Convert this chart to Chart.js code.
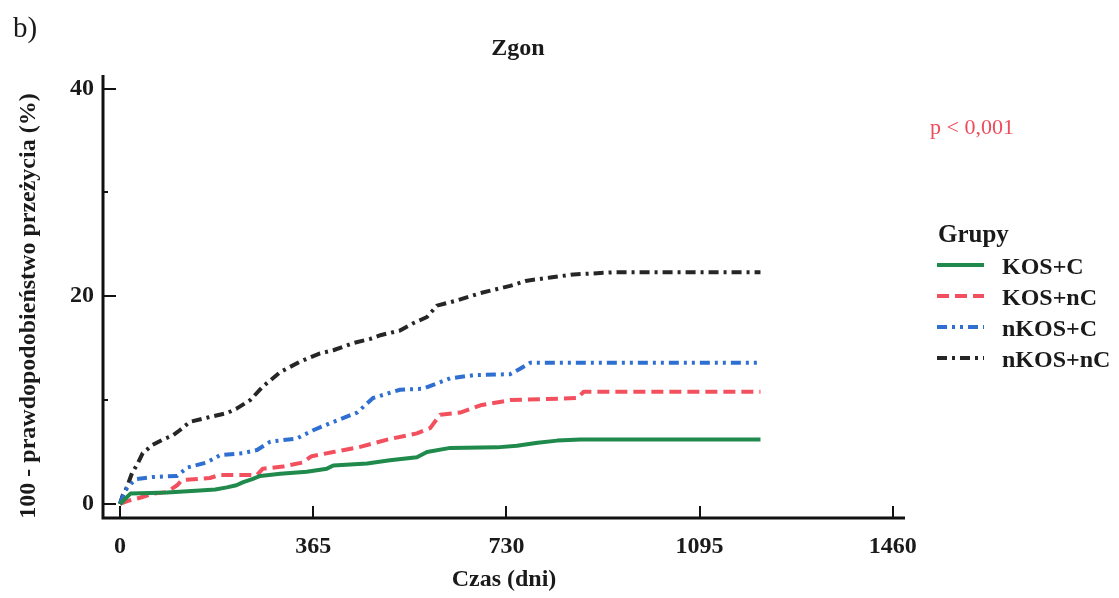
<!DOCTYPE html>
<html>
<head>
<meta charset="utf-8">
<title>Zgon</title>
<script src="https://cdn.jsdelivr.net/npm/chart.js@4"></script>
<style>
  html, body { margin: 0; padding: 0; background: #fff; }
  #wrap { width: 1119px; height: 598px; position: relative; }
</style>
</head>
<body>
<div id="wrap"><canvas id="chart"></canvas></div>
<script>
// cumulative mortality (100 - survival, %) by day, per group
const groupNames = ['KOS+C', 'KOS+nC', 'nKOS+C', 'nKOS+nC'];

const kosCDays = [0, 10, 20, 57, 89, 120, 151, 180, 202, 220, 233, 250, 265, 303, 353, 391, 403, 467, 510, 561, 580, 624, 712, 750, 789, 826, 870, 1210];
const kosCVals = [0, 0.5, 1.0, 1.05, 1.1, 1.2, 1.3, 1.4, 1.6, 1.8, 2.1, 2.4, 2.7, 2.9, 3.1, 3.4, 3.7, 3.9, 4.2, 4.5, 5.0, 5.4, 5.45, 5.6, 5.9, 6.1, 6.2, 6.2];

const kosNcDays = [0, 15, 38, 62, 89, 108, 117, 170, 189, 259, 270, 308, 346, 362, 403, 454, 505, 561, 586, 605, 643, 681, 737, 864, 876, 1210];
const kosNcVals = [0, 0.3, 0.6, 1.0, 1.15, 1.8, 2.3, 2.5, 2.8, 2.8, 3.4, 3.6, 4.0, 4.6, 5.0, 5.5, 6.2, 6.8, 7.3, 8.6, 8.8, 9.5, 10.0, 10.2, 10.8, 10.8];

const nkosCDays = [0, 6, 13, 22, 32, 62, 108, 127, 164, 189, 233, 259, 284, 334, 365, 403, 448, 478, 529, 573, 624, 668, 737, 755, 775, 1210];
const nkosCVals = [0, 0.8, 1.5, 2.0, 2.4, 2.6, 2.7, 3.5, 4.0, 4.7, 4.9, 5.2, 6.0, 6.3, 7.1, 7.9, 8.8, 10.2, 11.0, 11.1, 12.1, 12.4, 12.5, 13.0, 13.6, 13.6];

const nkosNcDays = [0, 5, 13, 23, 32, 43, 62, 81, 100, 113, 132, 164, 202, 221, 246, 270, 284, 303, 340, 378, 403, 441, 473, 492, 529, 554, 580, 599, 637, 681, 705, 737, 769, 813, 857, 932, 1210];
const nkosNcVals = [0, 0.8, 1.6, 3.0, 3.75, 4.9, 5.7, 6.2, 6.6, 7.1, 7.9, 8.3, 8.75, 9.2, 10.0, 11.3, 11.9, 12.7, 13.7, 14.5, 14.8, 15.5, 15.9, 16.25, 16.7, 17.4, 18.0, 19.1, 19.6, 20.3, 20.6, 21.0, 21.5, 21.8, 22.1, 22.3, 22.3];

const xTicks = [0, 365, 730, 1095, 1460];
const yTicks = [0, 10, 20, 30, 40];
const yLabels = [0, 20, 40];

const colors = ['#1f8a4c', '#f2505e', '#2e6fd1', '#262626'];
const dashes = [[], [12, 6], [10, 5, 3, 5, 3, 5], [10, 5, 3, 5]];

const serif = '"Liberation Serif", "Times New Roman", serif';

function toPoints(days, vals) {
  return days.map((d, i) => ({ x: d, y: vals[i] }));
}

const series = [
  toPoints(kosCDays, kosCVals),
  toPoints(kosNcDays, kosNcVals),
  toPoints(nkosCDays, nkosCVals),
  toPoints(nkosNcDays, nkosNcVals)
];

// axes with inward ticks, y title, panel label, title, p-value and legend
const decor = {
  id: 'decor',
  afterDraw(chart) {
    const { ctx, chartArea: a, scales: { x, y } } = chart;
    ctx.save();
    ctx.strokeStyle = '#111';
    ctx.lineCap = 'butt';

    ctx.lineWidth = 3;
    ctx.beginPath();
    ctx.moveTo(a.left, a.top);
    ctx.lineTo(a.left, a.bottom);
    ctx.lineTo(a.right, a.bottom);
    ctx.stroke();

    ctx.lineWidth = 2;
    yTicks.forEach(v => {
      const py = Math.round(y.getPixelForValue(v));
      const len = yLabels.includes(v) ? 13 : 5;
      ctx.beginPath();
      ctx.moveTo(a.left, py);
      ctx.lineTo(a.left + len, py);
      ctx.stroke();
    });
    xTicks.forEach(v => {
      const px = Math.round(x.getPixelForValue(v));
      ctx.beginPath();
      ctx.moveTo(px, a.bottom);
      ctx.lineTo(px, a.bottom - 12);
      ctx.stroke();
    });

    ctx.fillStyle = '#1a1a1a';
    ctx.font = 'bold 24px ' + serif;
    ctx.textAlign = 'center';
    ctx.textBaseline = 'middle';
    ctx.save();
    ctx.translate(29, 306);
    ctx.rotate(-Math.PI / 2);
    ctx.fillText('100 - prawdopodobieństwo przeżycia (%)', 0, 0);
    ctx.restore();

    ctx.textBaseline = 'alphabetic';
    ctx.font = '29px ' + serif;
    ctx.textAlign = 'left';
    ctx.fillText('b)', 13, 37);

    ctx.font = 'bold 24px ' + serif;
    ctx.textAlign = 'center';
    ctx.fillText('Zgon', 518, 55);

    ctx.textAlign = 'left';
    ctx.fillStyle = '#ee4b5b';
    ctx.font = '22px ' + serif;
    ctx.fillText('p < 0,001', 930, 134);

    ctx.fillStyle = '#1a1a1a';
    ctx.font = 'bold 25px ' + serif;
    ctx.fillText('Grupy', 938, 242);

    ctx.font = 'bold 24px ' + serif;
    groupNames.forEach((name, i) => {
      const ly = 265 + i * 31;
      ctx.strokeStyle = colors[i];
      ctx.lineWidth = 4;
      ctx.setLineDash(dashes[i]);
      ctx.beginPath();
      ctx.moveTo(937, ly);
      ctx.lineTo(984, ly);
      ctx.stroke();
      ctx.setLineDash([]);
      ctx.fillText(name, 1002, ly + 9);
    });
    ctx.restore();
  }
};

new Chart(document.getElementById('chart'), {
  type: 'line',
  data: {
    datasets: series.map((pts, i) => ({
      label: groupNames[i],
      data: pts,
      borderColor: colors[i],
      borderWidth: 4,
      borderDash: dashes[i],
      borderCapStyle: 'butt',
      borderJoinStyle: 'round',
      tension: 0,
      pointRadius: 0,
      fill: false
    }))
  },
  options: {
    responsive: true,
    maintainAspectRatio: false,
    animation: false,
    layout: { padding: { top: 75, right: 214, bottom: 0, left: 0 } },
    plugins: {
      legend: { display: false },
      title: { display: false },
      tooltip: { enabled: false }
    },
    scales: {
      x: {
        type: 'linear',
        min: -32,
        max: 1483,
        grid: { display: false, drawTicks: false },
        border: { display: false },
        afterBuildTicks: s => { s.ticks = xTicks.map(v => ({ value: v })); },
        afterFit: s => { s.height = 80; },
        ticks: {
          padding: 14,
          color: '#1a1a1a',
          maxRotation: 0,
          font: { family: serif, size: 24, weight: 'bold' },
          callback: v => String(v)
        },
        title: {
          display: true,
          text: 'Czas (dni)',
          color: '#1a1a1a',
          padding: { bottom: 4 },
          font: { family: serif, size: 24, weight: 'bold' }
        }
      },
      y: {
        min: -1.35,
        max: 41.3,
        grid: { display: false, drawTicks: false },
        border: { display: false },
        afterBuildTicks: s => { s.ticks = yTicks.map(v => ({ value: v })); },
        afterFit: s => { s.width = 103; },
        ticks: {
          padding: 9,
          color: '#1a1a1a',
          font: { family: serif, size: 24, weight: 'bold' },
          callback: v => (yLabels.includes(v) ? String(v) : '')
        }
      }
    }
  },
  plugins: [decor]
});
</script>
</body>
</html>
